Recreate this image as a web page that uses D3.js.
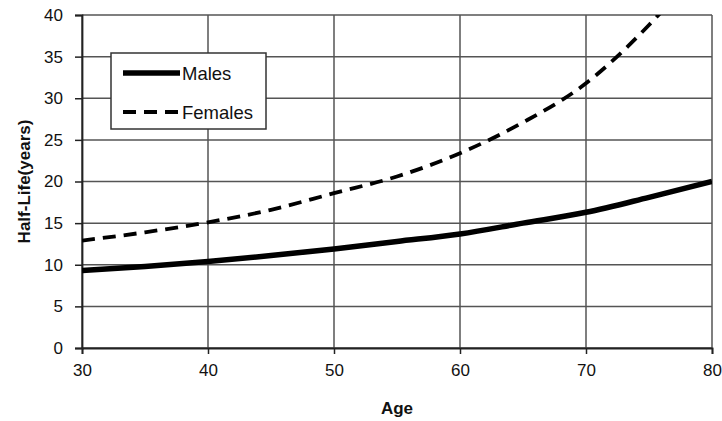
<!DOCTYPE html>
<html>
<head>
<meta charset="utf-8">
<script src="https://cdn.jsdelivr.net/npm/d3@7"></script>
<style>
  body { margin: 0; background: #fff; }
  svg text { font-family: "Liberation Sans", Arial, sans-serif; fill: #111; }
</style>
</head>
<body>
<div id="chart"></div>
<script>
const width = 722, height = 421;
const margin = { top: 15, right: 10, bottom: 73, left: 82 };

// ages and half-life values
const ages = [30, 35, 40, 45, 50, 55, 60, 65, 70, 75, 80];
const males = [9.3, 9.8, 10.4, 11.1, 11.9, 12.8, 13.7, 15.0, 16.3, 18.1, 20.0];
const femaleAges = [30, 35, 40, 45, 50, 55, 60, 65, 70, 75, 76];
const females = [12.9, 13.9, 15.1, 16.6, 18.6, 20.6, 23.4, 27.1, 31.8, 38.8, 40.4];

const xTicks = [30, 40, 50, 60, 70, 80];
const yTicks = [0, 5, 10, 15, 20, 25, 30, 35, 40];

const svg = d3.select("#chart").append("svg")
  .attr("width", width)
  .attr("height", height);

const x = d3.scaleLinear().domain([30, 80]).range([margin.left, width - margin.right]);
const y = d3.scaleLinear().domain([0, 40]).range([height - margin.bottom, margin.top]);

// grid
svg.append("g").selectAll("line").data(yTicks).enter().append("line")
  .attr("x1", x(30)).attr("x2", x(80))
  .attr("y1", d => y(d)).attr("y2", d => y(d))
  .attr("stroke", "#555").attr("stroke-width", 1.5);
svg.append("g").selectAll("line").data(xTicks).enter().append("line")
  .attr("x1", d => x(d)).attr("x2", d => x(d))
  .attr("y1", y(0)).attr("y2", y(40))
  .attr("stroke", "#555").attr("stroke-width", 1.5);

// axes
const xAxis = svg.append("g")
  .attr("transform", `translate(0,${y(0)})`)
  .call(d3.axisBottom(x).tickValues(xTicks).tickSize(6).tickPadding(10));
const yAxis = svg.append("g")
  .attr("transform", `translate(${x(30)},0)`)
  .call(d3.axisLeft(y).tickValues(yTicks).tickSize(7).tickPadding(12));
[xAxis, yAxis].forEach(g => {
  g.select(".domain").attr("stroke", "#222").attr("stroke-width", 1.8);
  g.selectAll(".tick line").attr("stroke", "#222").attr("stroke-width", 1.5);
  g.selectAll(".tick text").attr("font-size", "17px").attr("fill", "#111")
    .style("font-family", "'Liberation Sans', Arial, sans-serif");
});

svg.append("defs").append("clipPath").attr("id", "plot")
  .append("rect")
  .attr("x", x(30)).attr("y", y(40))
  .attr("width", x(80) - x(30)).attr("height", y(0) - y(40));

const line = d3.line().curve(d3.curveMonotoneX);

svg.append("path")
  .datum(ages.map((a, i) => [x(a), y(males[i])]))
  .attr("clip-path", "url(#plot)")
  .attr("fill", "none")
  .attr("stroke", "#000")
  .attr("stroke-width", 5.5)
  .attr("d", line);

svg.append("path")
  .datum(femaleAges.map((a, i) => [x(a), y(females[i])]))
  .attr("clip-path", "url(#plot)")
  .attr("fill", "none")
  .attr("stroke", "#000")
  .attr("stroke-width", 3.8)
  .attr("stroke-dasharray", "13 8")
  .attr("d", line);

// legend
const legend = svg.append("g").attr("transform", "translate(111,53)");
legend.append("rect")
  .attr("width", 155).attr("height", 76)
  .attr("fill", "#fff").attr("stroke", "#333").attr("stroke-width", 1.5);
legend.append("line")
  .attr("x1", 12).attr("x2", 69).attr("y1", 20).attr("y2", 20)
  .attr("stroke", "#000").attr("stroke-width", 5.5);
legend.append("line")
  .attr("x1", 12).attr("x2", 69).attr("y1", 59).attr("y2", 59)
  .attr("stroke", "#000").attr("stroke-width", 3.8).attr("stroke-dasharray", "13 8");
legend.append("text").attr("x", 71).attr("y", 27).attr("font-size", "18.5px").text("Males");
legend.append("text").attr("x", 71).attr("y", 66).attr("font-size", "18.5px").text("Females");

// axis titles
svg.append("text")
  .attr("x", (x(30) + x(80)) / 2).attr("y", 414)
  .attr("text-anchor", "middle")
  .attr("font-size", "17px").attr("font-weight", "bold")
  .text("Age");
svg.append("text")
  .attr("transform", `translate(30,${(y(0) + y(40)) / 2}) rotate(-90)`)
  .attr("text-anchor", "middle")
  .attr("font-size", "17px").attr("font-weight", "bold")
  .text("Half-Life(years)");
</script>
</body>
</html>
